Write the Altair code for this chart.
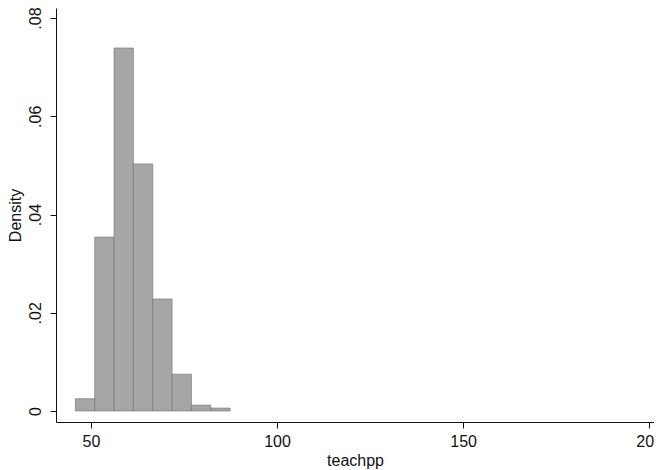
import altair as alt
import pandas as pd

# histogram of teachpp (density scale)
bin_left = [45.8, 51.0, 56.2, 61.4, 66.6, 71.8, 77.0, 82.2]
bin_right = [51.0, 56.2, 61.4, 66.6, 71.8, 77.0, 82.2, 87.4]
density = [0.0025, 0.0354, 0.0739, 0.0503, 0.0228, 0.0075, 0.0012, 0.0006]

x_ticks = [50, 100, 150, 200]
y_ticks = [0, 0.02, 0.04, 0.06, 0.08]

df = pd.DataFrame({"lo": bin_left, "hi": bin_right, "density": density})

FONT = "Liberation Sans"

bars = alt.Chart(df).mark_rect(
    fill="#a6a6a6", stroke="#707070", strokeWidth=0.6
).encode(
    x=alt.X("lo:Q",
            scale=alt.Scale(domain=[40.6, 201.3], nice=False, zero=False),
            axis=alt.Axis(values=x_ticks, title="teachpp", grid=False,
                          tickSize=6, labelPadding=5, titlePadding=3,
                          labelFontSize=16, titleFontSize=16,
                          labelFont=FONT, titleFont=FONT,
                          labelColor="#111", titleColor="#111",
                          titleFontWeight="normal",
                          domainColor="#111", tickColor="#111",
                          labelFlush=False, labelOverlap=False)),
    x2="hi:Q",
    y=alt.Y("density:Q",
            scale=alt.Scale(domain=[-0.00224, 0.08204], nice=False, zero=False),
            axis=alt.Axis(values=y_ticks, title="Density", grid=False,
                          tickSize=6, labelPadding=10, titlePadding=4,
                          labelAngle=270, labelAlign="center",
                          labelBaseline="alphabetic",
                          labelExpr="datum.value == 0 ? '0' : replace(format(datum.value, '.2f'), '0.', '.')",
                          labelFontSize=16, titleFontSize=16,
                          labelFont=FONT, titleFont=FONT,
                          labelColor="#111", titleColor="#111",
                          titleFontWeight="normal",
                          domainColor="#111", tickColor="#111",
                          labelFlush=False, labelOverlap=False)),
    y2=alt.datum(0),
)

chart = bars.properties(
    width=598, height=414,
    autosize="none",
    padding={"left": 48, "top": 0, "right": 0, "bottom": 54},
    view=alt.ViewBackground(stroke="transparent", strokeWidth=0),
).configure(background="white")

chart.save("out.html", embed_options={"renderer": "svg", "actions": False})
